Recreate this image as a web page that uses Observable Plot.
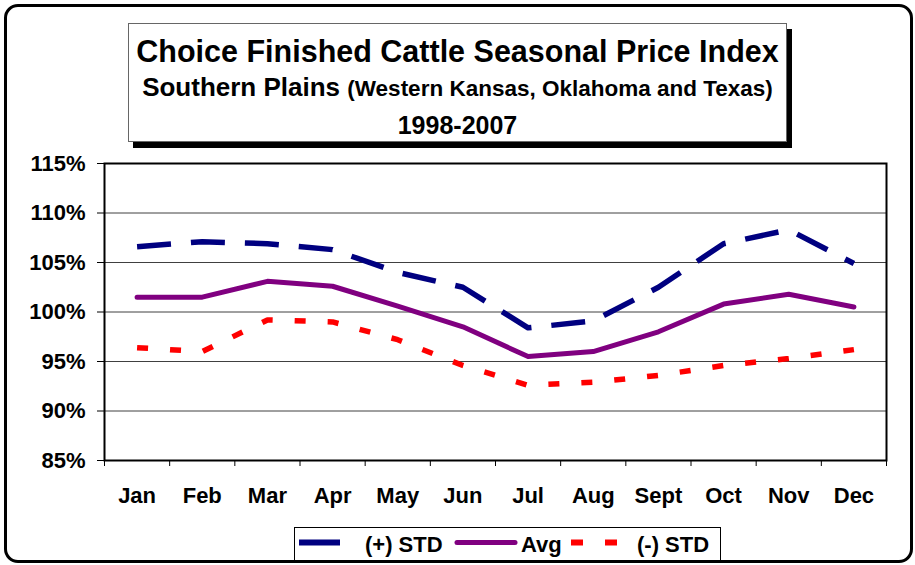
<!DOCTYPE html>
<html>
<head>
<meta charset="utf-8">
<script src="https://cdn.jsdelivr.net/npm/d3@7"></script>
<script src="https://cdn.jsdelivr.net/npm/@observablehq/plot@0.6"></script>
<style>
  html, body { margin: 0; padding: 0; background: #fff; }
  #wrap { position: relative; width: 915px; height: 565px; font-family: "Liberation Sans", Arial, sans-serif; overflow: hidden; }
  #outer { position: absolute; left: 4px; top: 4px; width: 903px; height: 553px; border: 3px solid #000; border-radius: 14px; pointer-events: none; }
  #titlebox { position: absolute; left: 128px; top: 23px; width: 659px; height: 119px; box-sizing: border-box; border: 1px solid #666; background: #fff; box-shadow: 5px 6px 0 #000; }
  .tl { position: absolute; left: 128px; width: 659px; text-align: center; font-weight: bold; color: #000; line-height: 1; white-space: nowrap; }
  #t1 { top: 35.6px; font-size: 30.5px; }
  #t2 { top: 73.6px; font-size: 26px; }
  #t2 span { font-size: 22.5px; }
  #t3 { top: 112.7px; font-size: 25px; }
  #legend { position: absolute; left: 294px; top: 527px; width: 427px; height: 34px; box-sizing: border-box; border: 1px solid #000; background: #fff; font-weight: bold; font-size: 22px; line-height: normal; }
  #legend svg { position: absolute; left: 0; top: 0; }
  .lt { position: absolute; top: 4px; white-space: nowrap; }
  #plot { position: absolute; left: 0; top: 0; }
</style>
</head>
<body>
<div id="wrap">
  <div id="plot"></div>
  <div id="titlebox"></div>
  <div class="tl" id="t1">Choice Finished Cattle Seasonal Price Index</div>
  <div class="tl" id="t2">Southern Plains <span>(Western Kansas, Oklahoma and Texas)</span></div>
  <div class="tl" id="t3">1998-2007</div>
  <div id="legend">
    <svg width="425" height="32">
      <line x1="4" x2="45" y1="14.5" y2="14.5" stroke="#000080" stroke-width="6"/>
      <line x1="162" x2="220" y1="14.5" y2="14.5" stroke="#800080" stroke-width="5" stroke-linecap="round"/>
      <line x1="276" x2="322" y1="14.5" y2="14.5" stroke="#ff0000" stroke-width="6" stroke-dasharray="12,22"/>
    </svg>
    <span class="lt" style="left:70px">(+) STD</span>
    <span class="lt" style="left:226px">Avg</span>
    <span class="lt" style="left:342px">(-) STD</span>
  </div>
  <div id="outer"></div>
</div>
<script>
const months = ["Jan","Feb","Mar","Apr","May","Jun","Jul","Aug","Sept","Oct","Nov","Dec"];
const plusStd = [106.6, 107.1, 106.9, 106.3, 104.0, 102.5, 98.4, 99.1, 102.5, 106.9, 108.3, 104.9];
const avg     = [101.5, 101.5, 103.1, 102.6, 100.6, 98.5, 95.5, 96.0, 98.0, 100.8, 101.8, 100.5];
const minusStd= [96.4, 96.0, 99.2, 99.0, 97.2, 94.6, 92.6, 92.9, 93.6, 94.6, 95.3, 96.2];
const yTicks  = [85, 90, 95, 100, 105, 110, 115];

const idx = months.map((_, i) => i);
const bounds = months.map((_, i) => i - 0.5).concat([months.length - 0.5]);
const toRows = (vals) => vals.map((v, i) => ({i, v}));

const chart = Plot.plot({
  width: 915,
  height: 565,
  marginLeft: 104,
  marginRight: 29,
  marginTop: 163,
  marginBottom: 105,
  style: {fontFamily: "'Liberation Sans', Arial, sans-serif", background: "transparent", color: "#000"},
  x: {type: "linear", domain: [-0.5, months.length - 0.5]},
  y: {domain: [85, 115]},
  marks: [
    Plot.gridY(yTicks, {stroke: "#000", strokeOpacity: 0.75, strokeWidth: 1}),
    Plot.axisY(yTicks, {tickSize: 7, tickPadding: 12, tickFormat: d => d + "%", fontSize: 22, fontWeight: "bold", label: null}),
    Plot.axisX(bounds, {tickSize: 6, tickFormat: () => "", label: null}),
    Plot.axisX(idx, {tickSize: 0, tickPadding: 27, tickFormat: i => months[i], fontSize: 22, fontWeight: "bold", label: null}),
    Plot.frame({stroke: "#000", strokeWidth: 2}),
    Plot.line(toRows(plusStd), {x: "i", y: "v", stroke: "#000080", strokeWidth: 5.5, strokeDasharray: "34,20", strokeLinecap: "butt"}),
    Plot.line(toRows(avg), {x: "i", y: "v", stroke: "#800080", strokeWidth: 5, strokeLinecap: "round"}),
    Plot.line(toRows(minusStd), {x: "i", y: "v", stroke: "#ff0000", strokeWidth: 5.5, strokeDasharray: "11,22", strokeLinecap: "butt"})
  ]
});
document.getElementById("plot").appendChild(chart);
</script>
</body>
</html>
